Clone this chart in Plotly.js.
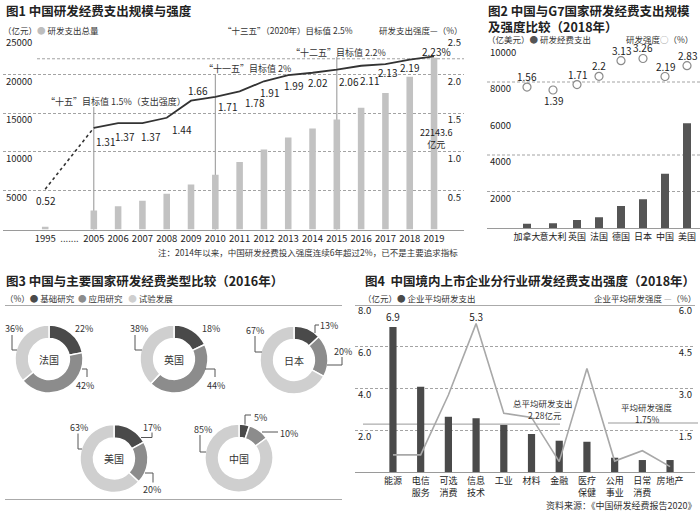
<!DOCTYPE html>
<html><head><meta charset="utf-8">
<script src="https://cdn.plot.ly/plotly-3.0.1.min.js"></script>
<style>html,body{margin:0;padding:0;background:#fff}#c{width:700px;height:513px}</style>
</head><body><div id="c"></div>
<script>
// ---------- Figure 1: China R&D spending & intensity ----------
const fig1Years = ['1995','.......','2005','2006','2007','2008','2009','2010','2011','2012','2013','2014','2015','2016','2017','2018','2019'];
const fig1Total = [348.7,null,2450.0,3003.1,3710.2,4616.0,5802.1,7062.6,8687.0,10298.4,11846.6,13015.6,14169.9,15676.7,17606.1,19677.9,22143.6];
const fig1Intensity = [0.52,null,1.31,1.37,1.37,1.44,1.66,1.71,1.78,1.91,1.99,2.02,2.06,2.11,2.13,2.19,2.23];
const planNames = ['“十五”','“十一五”','“十二五”','“十三五”（2020年）'];
const planTargets = [1.5, 2.0, 2.2, 2.5];
const planYears = ['2005','2010','2015','2020'];

// ---------- Figure 2: China vs G7 (2018) ----------
const g7Countries = ['加拿大','意大利','英国','法国','德国','日本','中国','美国'];
const g7Spending = [230, 260, 440, 590, 1210, 1570, 2970, 5740];
const g7Intensity = [1.56, 1.39, 1.71, 2.2, 3.13, 3.26, 2.19, 2.83];

// ---------- Figure 3: R&D type structure (2016) ----------
const pieCountries = ['法国','英国','日本','美国','中国'];
const pieTypes = ['基础研究','应用研究','试验发展'];
const pieBasic = [22, 18, 13, 17, 5];
const pieApplied = [42, 44, 20, 20, 10];
const pieExperimental = [36, 38, 67, 63, 85];

// ---------- Figure 4: listed companies by industry (2018) ----------
const industries = ['能源','电信<br>服务','可选<br>消费','信息<br>技术','工业','材料','金融','医疗<br>保健','公用<br>事业','日常<br>消费','房地产'];
const avgSpend = [6.9, 4.06, 2.63, 2.56, 2.24, 1.81, 1.49, 1.44, 0.68, 0.57, 0.57];
const avgIntensity = [0.61, 0.61, 2.75, 5.3, 2.1, 1.95, 0.37, 3.7, 0.39, 0.76, 0.19];
const overallAvgSpend = 2.28;
const overallAvgIntensity = 1.75;

// ================= layout helpers =================
const W = 700, H = 513;
const X = p => p / W, Y = p => 1 - p / H;
const FONT = '"Noto Sans CJK SC", "Noto Sans", sans-serif';
const INK = '#333';
const C_DARK = '#4a4a4a', C_MID = '#8c8c8c', C_LIGHT = '#cfcfcf', C_BAR1 = '#c2c2c2';
const GRID = {showgrid:true, gridcolor:'#a3a3a3', griddash:'3px,2px', gridwidth:1};
const SMALL = {family:FONT, size:8.5, color:INK};
const NUMF = {family:FONT, size:10, color:'#222'};

const annotations = [];
const shapes = [];
function ann(text, x, y, o = {}) {
  annotations.push(Object.assign({text, x:X(x), y:Y(y), xref:'paper', yref:'paper', showarrow:false,
    xanchor:'left', yanchor:'middle', font:SMALL, borderpad:0}, o));
}
const titleFont = {family:FONT, size:12.5, color:'#222', weight:'bold'};
function hline(x0, x1, y, color = '#aaa', dash = 'solid') {
  shapes.push({type:'line', xref:'paper', yref:'paper', x0:X(x0), x1:X(x1), y0:Y(y), y1:Y(y),
    line:{color, width:1, dash}, layer:'above'});
}

const traces = [];

// ---------- Figure 1 traces ----------
traces.push({type:'bar', x:fig1Years, y:fig1Total, xaxis:'x', yaxis:'y', width:0.27,
  marker:{color:C_BAR1}, hoverinfo:'skip'});
traces.push({type:'scatter', mode:'lines', x:[fig1Years[0], fig1Years[2]], y:[fig1Intensity[0], fig1Intensity[2]],
  xaxis:'x', yaxis:'y2', line:{color:'#333', width:1.6, dash:'dot'}, hoverinfo:'skip'});
traces.push({type:'scatter', mode:'lines', x:fig1Years.slice(2), y:fig1Intensity.slice(2),
  xaxis:'x', yaxis:'y2', line:{color:'#333', width:1.8}, hoverinfo:'skip'});
// value labels: pixel offsets (dx right, dy down) from each point
const fig1LabelShift = [[1,11],[0,0],[12,14],[7,13],[9,13],[15,12],[7,-10],[12,10],[15,11],[6,11],[5,10],[5,10],[12,12],[8,15],[2,8],[0,8],[2,-5]];
fig1Intensity.forEach((v, i) => {
  if (v == null) return;
  annotations.push({text: v.toFixed(2) + (i === fig1Intensity.length-1 ? '%' : ''), x:i, y:v, xref:'x', yref:'y2',
    xshift:fig1LabelShift[i][0], yshift:-fig1LabelShift[i][1], showarrow:false, xanchor:'center', yanchor:'middle', font:NUMF, borderpad:0});
});

// ---------- Figure 2 traces ----------
// bar positions spaced according to label length (so labels do not collide)
const g7Pos = [];
g7Countries.forEach((c, i) => {
  g7Pos.push(i === 0 ? 0 : g7Pos[i-1] + 4 * (g7Countries[i-1].length + c.length) / 2 + 14);
});
traces.push({type:'bar', x:g7Pos, y:g7Spending, xaxis:'x2', yaxis:'y3', width:8,
  marker:{color:'#555'}, hoverinfo:'skip'});
traces.push({type:'scatter', mode:'markers', x:g7Pos, y:g7Intensity, xaxis:'x2', yaxis:'y4',
  marker:{symbol:'circle', size:8, color:'#fff', line:{color:'#8a8a8a', width:1.2}}, cliponaxis:false, hoverinfo:'skip'});
g7Intensity.forEach((v, i) => {
  annotations.push({text:String(v), x:g7Pos[i], y:v, xref:'x2', yref:'y4', yshift: i === 1 ? -11 : 10.5,
    showarrow:false, xanchor:'center', yanchor:'middle', font:NUMF, borderpad:0});
});

// ---------- Figure 4 traces ----------
traces.push({type:'bar', x:industries, y:avgSpend, xaxis:'x3', yaxis:'y5', width:0.26,
  marker:{color:C_DARK}, text:avgSpend.map((v,i)=> i===0 ? v.toFixed(1) : ''), textposition:'outside',
  textfont:NUMF, cliponaxis:false, constraintext:'none', hoverinfo:'skip'});
const maxI = Math.max(...avgIntensity);
traces.push({type:'scatter', mode:'lines+text', x:industries, y:avgIntensity, xaxis:'x3', yaxis:'y6',
  line:{color:'#a8a8a8', width:1.6}, text:avgIntensity.map(v=> v===maxI ? v.toFixed(1) : ''),
  textposition:'top center', textfont:NUMF, cliponaxis:false, hoverinfo:'skip'});

// ---------- Figure 3 pies ----------
const pieCenters = [[49,359],[174,359],[294,360],[114,458.5],[239,458]];
const R = 34;
// label layout per pie: [basic, applied, experimental] -> label centre offset and leader polyline (px from centre)
const pieLabelLayout = [
  [{d:[35,-31]}, {d:[35.5,26], L:[[33,10],[38,10],[38,18]]}, {d:[-34.5,-31], L:[[-37,-24],[-37,-9],[-32,-9]]}],
  [{d:[37,-31]}, {d:[41.5,26], L:[[31,10],[41,10],[41,18]]}, {d:[-35,-31], L:[[-39,-24],[-39,-9],[-32,-9]]}],
  [{d:[34.5,-35], L:[[21,-27],[21,-35],[25,-35]]}, {d:[48.5,-9], L:[[48,-3],[48,5],[33,5]]}, {d:[-39,-30], L:[[-39,-24],[-39,-8],[-32,-8]]}],
  [{d:[37.5,-31.5], L:[[38,-26],[38,-21],[27,-21]]}, {d:[37.5,30.5], L:[[31,14.5],[39,14.5],[39,24]]}, {d:[-35,-31.5], L:[[-36,-25],[-36,-9.5],[-32,-9.5]]}],
  [{d:[21,-41], L:[[6,-33.5],[6,-43],[12,-43]]}, {d:[50,-25], L:[[23,-26],[39,-26]]}, {d:[-36.5,-29], L:[[-39,-23],[-39,-6],[-33,-6]]}]
];
pieCountries.forEach((name, i) => {
  const [cx, cy] = pieCenters[i];
  const vals = [pieBasic[i], pieApplied[i], pieExperimental[i]];
  traces.push({type:'pie', labels:pieTypes, values:vals, hole:0.6, sort:false, direction:'clockwise', rotation:0,
    domain:{x:[X(cx-R), X(cx+R)], y:[Y(cy+R), Y(cy-R)]}, textinfo:'none', hoverinfo:'skip',
    marker:{colors:[C_DARK, C_MID, C_LIGHT], line:{color:'#fff', width:1.5}}});
  ann(name, cx, cy, {xanchor:'center', font:{family:FONT, size:10, color:INK}});
  pieLabelLayout[i].forEach((lab, k) => {
    ann(vals[k] + '%', cx + lab.d[0], cy + lab.d[1], {xanchor:'center', font:{family:FONT, size:9, color:INK}});
    if (lab.L) {
      const pts = lab.L.map(p => [X(cx+p[0]), Y(cy+p[1])]);
      shapes.push({type:'path', xref:'paper', yref:'paper', layer:'above',
        path:'M' + pts.map(p => p[0] + ',' + p[1]).join(' L'), line:{color:'#555', width:1}});
    }
  });
});

// ---------- Figure 1 decorations ----------
ann('图1 中国研发经费支出规模与强度', 5, 11, {font:titleFont});
ann('（亿元）<span style="color:#bdbdbd">●</span> 研发支出总量', 2, 30);
ann(planNames[3] + '目标值 ' + planTargets[3] + '%', 222, 30);
ann('研发支出强度<span style="color:#333">—</span>（%）', 463, 30, {xanchor:'right'});
ann(planNames[0] + '目标值 ' + planTargets[0] + '%（支出强度）', 45, 101, {font:{family:FONT, size:9, color:INK}});
ann(planNames[1] + '目标值 ' + planTargets[1] + '%', 203, 68, {font:{family:FONT, size:9, color:INK}});
ann(planNames[2] + '目标值 ' + planTargets[2] + '%', 290, 52, {font:{family:FONT, size:9, color:INK}});
ann(fig1Total[fig1Total.length-1].toFixed(1) + '<br>亿元', 436, 138, {xanchor:'center', font:{family:FONT, size:9, color:'#222'}});
ann('注：2014年以来，中国研发经费投入强度连续6年超过2%，已不是主要追求指标', 459, 252, {xanchor:'right'});
// target 2.2% line
shapes.push({type:'line', xref:'paper', yref:'y2', x0:X(37), x1:X(464), y0:planTargets[2], y1:planTargets[2],
  line:{color:'#a3a3a3', width:1, dash:'3px,2px'}, layer:'between'});
// plan leader verticals
[[0,107],[1,75],[2,57]].forEach(([k, top]) => {
  const xi = fig1Years.indexOf(planYears[k]);
  shapes.push({type:'line', xref:'x', yref:'paper', x0:xi, x1:xi, y0:Y(top), y1:Y(229.5),
    line:{color:'#777', width:0.8}, layer:'between'});
});

// ---------- Figure 2 decorations ----------
ann('图2 中国与G7国家研发经费支出规模<br>及强度比较（2018年）', 487, 18, {font:titleFont, align:'left'});
ann('（亿美元）<span style="color:#555">●</span> 研发经费支出', 486, 38.5);
ann('研发强度<span style="color:#888">○</span>（%）', 694, 38.5, {xanchor:'right'});
[2000, 4000, 8000].forEach(v => shapes.push({type:'line', xref:'paper', yref:'y3', x0:X(487), x1:X(700), y0:v, y1:v,
  line:{color:'#a3a3a3', width:1, dash:'3px,2px'}, layer:'between'}));

// ---------- Figure 3 decorations ----------
ann('图3 中国与主要国家研发经费类型比较（2016年）', 5, 280, {font:titleFont});
ann('（%）<span style="color:' + C_DARK + '">●</span> 基础研究  <span style="color:' + C_MID + '">●</span> 应用研究   <span style="color:' + C_LIGHT + '">●</span> 试验发展', 4, 298);
hline(5, 342, 305.5);
hline(5, 342, 499.5);

// ---------- Figure 4 decorations ----------
ann('图4  中国境内上市企业分行业研发经费支出强度（2018年）', 364, 280, {font:titleFont});
ann('（亿元）<span style="color:' + C_DARK + '">●</span> 企业平均研发支出', 362, 298);
ann('企业平均研发强度 <span style="color:#aaa">—</span>（%）', 697, 298, {xanchor:'right'});
hline(355, 695, 305.5);
shapes.push({type:'line', xref:'paper', yref:'y5', x0:X(363), x1:X(560), y0:overallAvgSpend, y1:overallAvgSpend,
  line:{color:'#999', width:1}, layer:'between'});
shapes.push({type:'line', xref:'paper', yref:'y6', x0:X(608), x1:X(698), y0:overallAvgIntensity, y1:overallAvgIntensity,
  line:{color:'#999', width:1}, layer:'between'});
ann('总平均研发支出', 543, 403, {xanchor:'center'});
ann(overallAvgSpend + '亿元', 545, 415, {xanchor:'center'});
ann('平均研发强度', 647, 407, {xanchor:'center'});
ann(overallAvgIntensity + '%', 647, 419, {xanchor:'center'});
ann('资料来源：《中国研发经费报告2020》', 697, 505, {xanchor:'right', font:{family:FONT, size:9, color:INK}});

// ================= axes =================
const tickF = {family:FONT, size:9.5, color:'#222'};
const xBase = {type:'category', showline:true, linecolor:'#9a9a9a', linewidth:1, ticks:'', showgrid:false,
  zeroline:false, tickfont:{family:FONT, size:9, color:'#222'}, tickangle:0, fixedrange:true};
const yBase = {ticks:'', zeroline:false, showline:false, ticklabelposition:'inside', ticklabelshift:7,
  ticklabeloverflow:'allow', tickfont:tickF, fixedrange:true};

const layout = {
  width:W, height:H, margin:{l:0, r:0, t:0, b:0}, paper_bgcolor:'#fff', plot_bgcolor:'rgba(0,0,0,0)',
  showlegend:false, font:{family:FONT, color:INK, size:10},
  xaxis: Object.assign({}, xBase, {domain:[X(3), X(464)], range:[-1.737, 17.233], anchor:'y', tickfont:{family:FONT, size:9.5, color:'#222'}}),
  yaxis: Object.assign({}, yBase, GRID, {domain:[Y(229.5), Y(35.5)], range:[0, 25000], tickvals:[5000,10000,15000,20000,25000], tickformat:'d', anchor:'x'}),
  yaxis2: Object.assign({}, yBase, {overlaying:'y', side:'right', range:[0, 2.5], tickvals:[0.5,1,1.5,2,2.5], tickformat:'.1f', showgrid:false, anchor:'x'}),
  xaxis2: Object.assign({}, xBase, {type:'linear', domain:[X(487), X(700)], range:[-40, 173], tickvals:g7Pos, ticktext:g7Countries, anchor:'y3'}),
  yaxis3: Object.assign({}, yBase, {domain:[Y(228), Y(45.5)], range:[0, 10000], tickvals:[2000,4000,6000,8000,10000], tickformat:'d', showgrid:false, anchor:'x2'}),
  yaxis4: {overlaying:'y3', range:[-6.8, 4.03], visible:false, fixedrange:true, anchor:'x2'},
  xaxis3: Object.assign({}, xBase, {domain:[X(355), X(695)], range:[-1.37, 10.9], anchor:'y5'}),
  yaxis5: Object.assign({}, yBase, GRID, {domain:[Y(472), Y(304)], range:[0, 8], tickvals:[2,4,6,8], tickformat:'.1f', anchor:'x3'}),
  yaxis6: Object.assign({}, yBase, {overlaying:'y5', side:'right', range:[0, 6], tickvals:[1.5,3,4.5,6], tickformat:'.1f', showgrid:false, anchor:'x3'}),
  shapes, annotations
};

Plotly.newPlot('c', traces, layout, {staticPlot:true, displayModeBar:false});
</script>
</body></html>
